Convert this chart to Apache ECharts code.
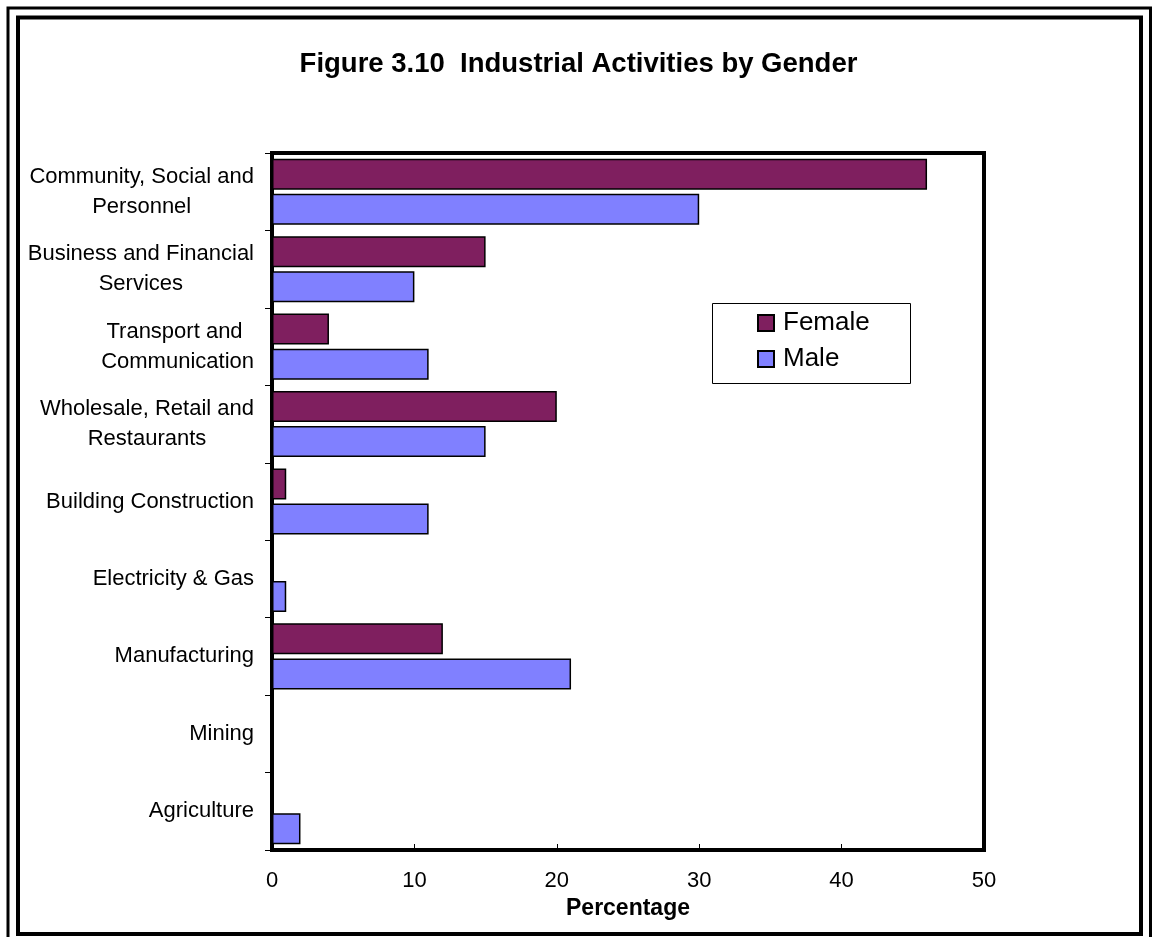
<!DOCTYPE html>
<html>
<head>
<meta charset="utf-8">
<title>Industrial Activities by Gender</title>
<script src="https://cdn.jsdelivr.net/npm/echarts@6/dist/echarts.min.js"></script>
<style>
  html, body { margin: 0; padding: 0; background: #fff; }
  #chart { width: 1157px; height: 937px; }
</style>
</head>
<body>
<div id="chart"></div>
<script>
// Industry groups, listed top to bottom
const categories = [
  'Community, Social and\nPersonnel',
  'Business and Financial\nServices',
  'Transport and \nCommunication',
  'Wholesale, Retail and\nRestaurants',
  'Building Construction',
  'Electricity & Gas',
  'Manufacturing',
  'Mining',
  'Agriculture'
];

// Share of employed persons (%) in each industry
const female = [46, 15, 4, 20, 1, 0, 12, 0, 0];
const male   = [30, 10, 11, 15, 11, 1, 21, 0, 2];

const xTicks = [0, 10, 20, 30, 40, 50];

const FONT = '"Liberation Sans", Arial, Helvetica, sans-serif';
const FEMALE_COLOR = '#7f1f5f';
const MALE_COLOR = '#8080ff';

const chart = echarts.init(document.getElementById('chart'), null, { renderer: 'canvas' });

chart.setOption({
  backgroundColor: '#ffffff',
  animation: false,
  title: {
    text: 'Figure 3.10  Industrial Activities by Gender',
    left: 'center',
    top: 50,
    padding: 0,
    textStyle: { fontFamily: FONT, fontWeight: 'bold', fontSize: 27.5, color: '#000' }
  },
  legend: {
    orient: 'vertical',
    left: 757,
    top: 310,
    padding: 0,
    itemWidth: 16,
    itemHeight: 16,
    itemGap: 10,
    icon: 'rect',
    textStyle: { fontFamily: FONT, fontSize: 26, color: '#000', padding: [0, 0, 0, 4] },
    data: ['Female', 'Male']
  },
  grid: {
    left: 272,
    right: 173,
    top: 153,
    bottom: 87,
    show: true,
    borderColor: '#000',
    borderWidth: 4,
    backgroundColor: '#fff'
  },
  xAxis: {
    type: 'value',
    min: xTicks[0],
    max: xTicks[xTicks.length - 1],
    interval: 10,
    name: 'Percentage',
    nameLocation: 'middle',
    nameGap: 46,
    nameTextStyle: { fontFamily: FONT, fontWeight: 'bold', fontSize: 23, color: '#000' },
    axisLine: { show: true, lineStyle: { color: '#000', width: 4 } },
    axisTick: { show: true, inside: true, length: 6, lineStyle: { color: '#000', width: 1 } },
    axisLabel: { fontFamily: FONT, fontSize: 22, color: '#000', margin: 20 },
    splitLine: { show: false }
  },
  yAxis: {
    type: 'category',
    data: categories,
    inverse: true,
    axisLine: { show: true, lineStyle: { color: '#000', width: 4 } },
    axisTick: { show: true, inside: false, length: 7, lineStyle: { color: '#000', width: 1 } },
    axisLabel: {
      align: 'right',
      margin: 18,
      formatter: function (v) {
        return v.split('\n').map(function (s) { return '{c|' + s + '}'; }).join('\n');
      },
      rich: {
        c: { align: 'center', fontFamily: FONT, fontSize: 22, color: '#000', lineHeight: 30 }
      }
    },
    splitLine: { show: false }
  },
  series: [
    {
      name: 'Female',
      type: 'bar',
      data: female,
      barWidth: 31,
      barGap: '13%',
      itemStyle: { color: FEMALE_COLOR, borderColor: '#000', borderWidth: 1.5 }
    },
    {
      name: 'Male',
      type: 'bar',
      data: male,
      barWidth: 31,
      barGap: '13%',
      itemStyle: { color: MALE_COLOR, borderColor: '#000', borderWidth: 1.5 }
    }
  ],
  graphic: [
    // outer thin frame
    { type: 'rect', z: 100, silent: true,
      shape: { x: 8, y: 8, width: 1142.5, height: 940 },
      style: { fill: null, stroke: '#000', lineWidth: 3 } },
    // inner heavy frame
    { type: 'rect', z: 100, silent: true,
      shape: { x: 18, y: 17.5, width: 1123, height: 916.5 },
      style: { fill: null, stroke: '#000', lineWidth: 4 } },
    // legend box
    { type: 'rect', z: 1, silent: true,
      shape: { x: 712.5, y: 303.5, width: 198, height: 80 },
      style: { fill: '#fff', stroke: '#000', lineWidth: 1 } }
  ]
});
</script>
</body>
</html>
